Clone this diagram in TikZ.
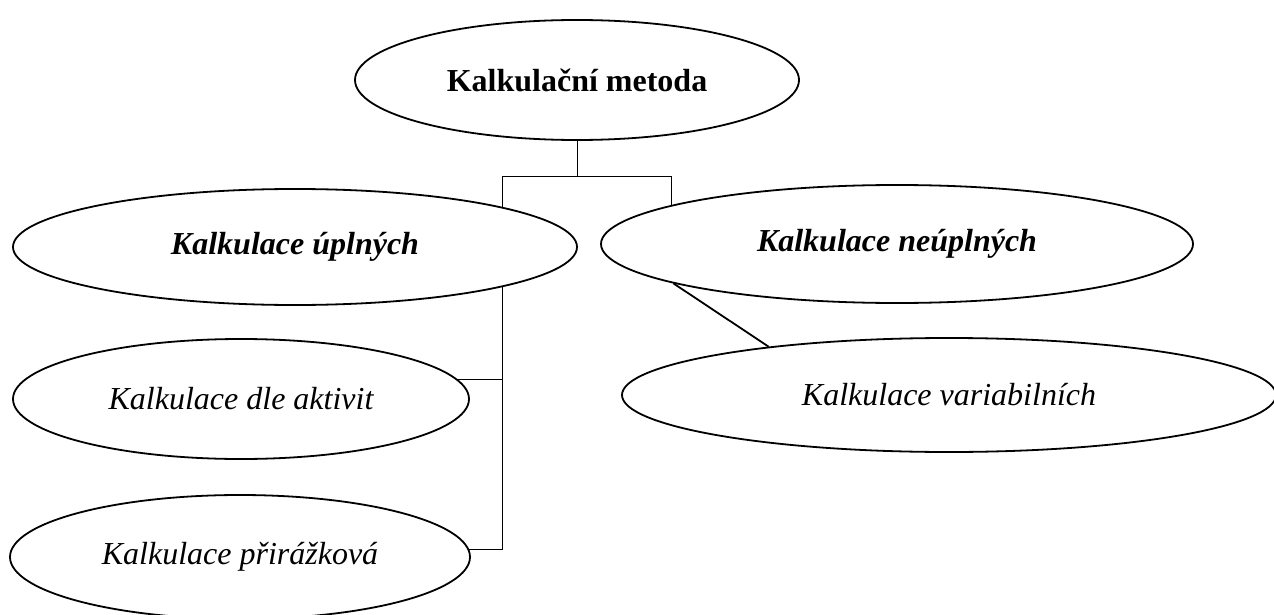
\documentclass[tikz,border=0pt]{standalone}
\usepackage{fontspec}
\setmainfont{Liberation Serif}
\usetikzlibrary{shapes.geometric,backgrounds}
\begin{document}
\begin{tikzpicture}[
            x=0.5pt, y=-0.5pt,
            line width=0.9pt,
            oval/.style={ellipse,draw,fill=white,inner sep=0pt,
                font=\fontsize{16}{19}\selectfont\itshape},
            root/.style={oval,font=\fontsize{16}{19}\selectfont\bfseries},
            group/.style={oval,font=\fontsize{16}{19}\selectfont\bfseries\itshape}
        ]
        \useasboundingbox (0,0) rectangle (1274,615);
        \node[root,minimum width=222pt,minimum height=60pt] (metoda) at (577,80) {Kalkulační metoda};
        \node[group,minimum width=282pt,minimum height=58pt] (uplne) at (295,247) {Kalkulace úplných};
        \node[group,minimum width=296pt,minimum height=59pt] (neuplne) at (897,244) {Kalkulace neúplných};
        \node[oval,minimum width=228pt,minimum height=60pt] (aktivit) at (241,399) {Kalkulace dle aktivit};
        \node[oval,minimum width=230pt,minimum height=62pt] (prirazkova) at (240,557) {Kalkulace přirážková};
        \node[oval,minimum width=327pt,minimum height=57pt] (variabilni) at (949,395) {Kalkulace variabilních};
        \coordinate (fork) at (577,176);
        \coordinate (forkl) at (502,176);
        \coordinate (forkr) at (671,176);
        \coordinate (branch) at (502,379);
        \coordinate (spine) at (502,549);
        \begin{scope}[on background layer]
            \draw (metoda) -- (fork);
            \draw (forkr |- neuplne.center) -- (forkr) -- (forkl) -- (spine) -- (spine -| prirazkova.center);
            \draw (branch) -- (branch -| aktivit.center);
        \end{scope}
        \draw (neuplne.190) -- (variabilni.165);
    \end{tikzpicture}
\end{document}
